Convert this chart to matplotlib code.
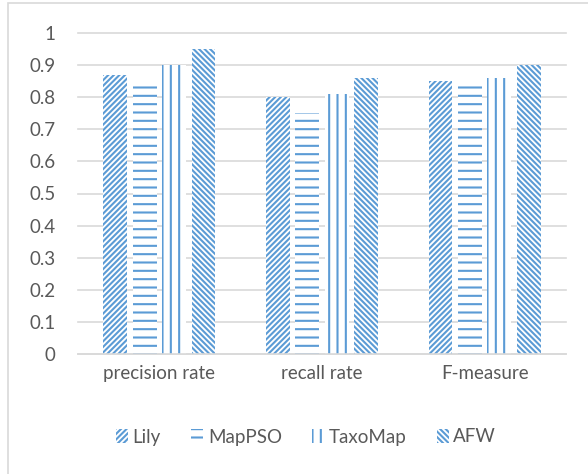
import matplotlib
matplotlib.use("Agg")
import matplotlib.pyplot as plt
import numpy as np
from matplotlib.patches import Rectangle

categories = ["precision rate", "recall rate", "F-measure"]
series = ["Lily", "MapPSO", "TaxoMap", "AFW"]
lily = [0.87, 0.80, 0.85]
mappso = [0.84, 0.75, 0.85]
taxomap = [0.90, 0.81, 0.86]
afw = [0.95, 0.86, 0.90]
yticks = [0, 0.1, 0.2, 0.3, 0.4, 0.5, 0.6, 0.7, 0.8, 0.9, 1]
ytick_labels = ["0", "0.1", "0.2", "0.3", "0.4", "0.5", "0.6", "0.7", "0.8", "0.9", "1"]

values = [lily, mappso, taxomap, afw]
hatches = ["//////", "--", "||", "\\\\\\\\\\\\"]

blue = "#5B9BD5"
txt = "#595959"
grid = "#D9D9D9"

plt.rcParams["font.family"] = ["Lato", "DejaVu Sans"]
plt.rcParams["hatch.linewidth"] = 1.5
plt.rcParams["hatch.color"] = blue

fig = plt.figure(figsize=(5.88, 4.74), dpi=100)
ax = fig.add_axes([78/588, 120/474, 488/588, 321/474])

x = np.arange(len(categories))
step = 0.181
width = 0.147
handles = []
for i, (name, vals, h) in enumerate(zip(series, values, hatches)):
    b = ax.bar(x + (i - 1.5) * step, vals, width, facecolor="white",
               edgecolor=blue, linewidth=0, hatch=h, label=name, zorder=3)
    handles.append(b)

ax.set_xlim(-0.5, 2.5)
ax.set_ylim(0, 1)
ax.set_yticks(yticks)
ax.set_yticklabels(ytick_labels)
ax.set_xticks(x)
ax.set_xticklabels(categories)
for s in ["top", "right", "left"]:
    ax.spines[s].set_visible(False)
ax.spines["bottom"].set_color(grid)
ax.spines["bottom"].set_linewidth(1.2)
ax.spines["bottom"].set_zorder(4)
ax.yaxis.grid(True, color=grid, linewidth=1.2, zorder=0)
for gl in ax.get_ygridlines():
    gl.set_clip_on(False)
ax.tick_params(axis="y", length=0, pad=16, labelsize=13.5, labelcolor=txt)
ax.tick_params(axis="x", length=0, pad=8, labelsize=13.5, labelcolor=txt)

leg = fig.legend(handles=handles, labels=series, loc="center",
                 bbox_to_anchor=(306/588, 1 - 437/474), ncol=4, frameon=False,
                 fontsize=13.5, handlelength=0.65, handleheight=0.7,
                 handletextpad=0.25, columnspacing=1.6, labelcolor=txt)

fig.patches.append(Rectangle((8/588, -0.1), 1.2, 1.1 - 3.5/474, transform=fig.transFigure,
                             fill=False, edgecolor=grid, linewidth=1.2))

fig.savefig("out.png", dpi=100)
